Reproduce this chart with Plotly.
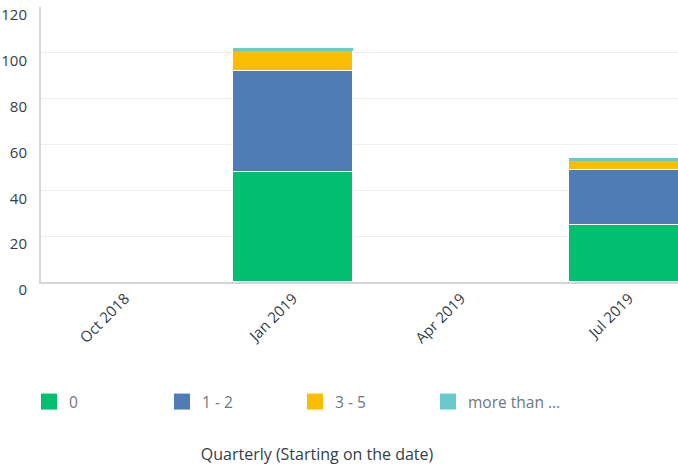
import plotly.graph_objects as go

quarters = ["Oct 2018", "Jan 2019", "Apr 2019", "Jul 2019"]
series_names = ["0", "1 - 2", "3 - 5", "more than ..."]
vals_0 = [0, 48, 0, 25]
vals_1_2 = [0, 44, 0, 24]
vals_3_5 = [0, 9, 0, 4]
vals_more = [0, 1, 0, 1]
colors = ["#00bf6f", "#507cb6", "#f9be00", "#6bc8cd"]
y_ticks = [0, 20, 40, 60, 80, 100, 120]

FONT = "Open Sans"
series_vals = [vals_0, vals_1_2, vals_3_5, vals_more]
line_widths = [1, 1, 1, 0]

fig = go.Figure()
for name, vals, col, lw in zip(series_names, series_vals, colors, line_widths):
    fig.add_trace(go.Bar(
        x=quarters, y=vals, name=name, width=0.714,
        marker=dict(color=col, line=dict(color="white", width=lw)),
        showlegend=False, hoverinfo="x+y+name"))

# legend proxies (larger square swatches)
for name, col in zip(series_names, colors):
    fig.add_trace(go.Scatter(
        x=[None], y=[None], mode="markers", name=name,
        marker=dict(symbol="square", size=16, color=col),
        showlegend=True))

fig.update_layout(
    width=678, height=465,
    margin=dict(l=41, r=0, t=7, b=183),
    plot_bgcolor="white", paper_bgcolor="white",
    barmode="stack", bargap=0,
    font=dict(family=FONT, size=14, color="#333e48"),
    xaxis=dict(type="category", categoryorder="array", categoryarray=quarters,
               range=[-0.5, 3.292], tickangle=-45,
               showline=True, linecolor="#d6d6d6", linewidth=2,
               showgrid=False, ticks="", fixedrange=True,
               tickfont=dict(family=FONT, size=15, color="#333e48")),
    yaxis=dict(range=[0, 120.05], tickvals=y_ticks, showgrid=True,
               gridcolor="#ececec", gridwidth=1, zeroline=False,
               showline=True, linecolor="#d6d6d6", linewidth=2,
               ticks="", ticklabelshift=8, ticklabelstandoff=9,
               tickfont=dict(family=FONT, size=15, color="#333e48")),
    legend=dict(orientation="h", xref="container", x=29 / 678, xanchor="left",
                yref="container", y=0.1355, yanchor="middle",
                entrywidth=88, entrywidthmode="pixels",
                font=dict(family=FONT, size=15.5, color="#6b7787"),
                traceorder="normal"),
    title=dict(text="Quarterly (Starting on the date)",
               x=317 / 678, xanchor="center", xref="container",
               yref="container", y=(465 - 454) / 465, yanchor="middle",
               font=dict(family=FONT, size=16, color="#333e48")),
)

fig.write_html("out.html")
